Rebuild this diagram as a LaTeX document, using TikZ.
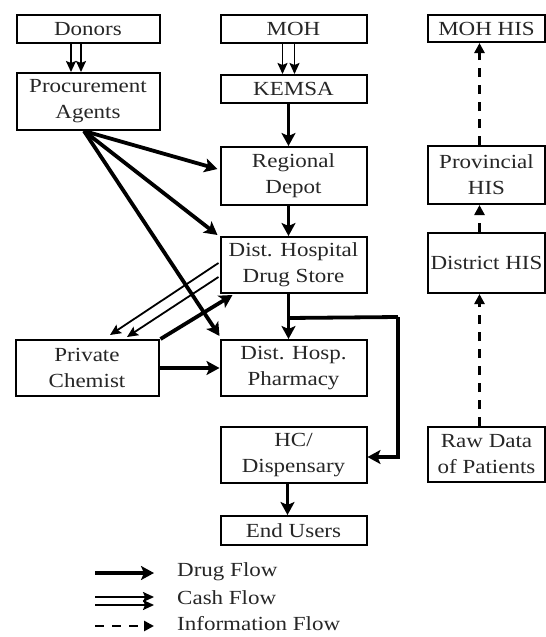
\documentclass[tikz,border=0pt]{standalone}
\usepackage{fontspec}
\setmainfont{Liberation Serif}[FakeStretch=1.15]
\usetikzlibrary{arrows.meta,calc}
\begin{document}
\begin{tikzpicture}[x=1pt,y=-1pt,
  box/.style={draw=black, line width=2pt, inner sep=0pt, align=center,
    font=\fontsize{20}{26}\selectfont, text=black!85},
  lbox/.style={box, minimum width=143pt},
  mbox/.style={box, minimum width=146pt},
  rbox/.style={box, minimum width=117pt},
  drug/.style={line width=3.8pt, -{Stealth[length=13pt,width=14pt,inset=3pt]}},
  cash/.style={line width=1.8pt, -{Stealth[length=11pt,width=10pt,inset=2pt]}},
  info/.style={line width=2.8pt, dash pattern=on 9pt off 8pt, -{Triangle[length=10pt,width=10pt]}},
  legtext/.style={anchor=west, inner sep=0pt, font=\fontsize{20}{24}\selectfont, text=black!85}
]
\useasboundingbox (0,0) rectangle (546,637);

% boxes
\node[lbox, minimum height=28pt] (don) at (88,29) {Donors};
\node[lbox, minimum height=57pt] (proc) at (88,101.5) {Procurement\\Agents};
\node[mbox, minimum height=28pt] (moh) at (293.5,29) {MOH};
\node[mbox, minimum height=28pt] (kem) at (293.5,89) {KEMSA};
\node[mbox, minimum height=58pt] (rd) at (293.5,176) {Regional\\Depot};
\node[mbox, minimum height=56pt] (ds) at (293.5,265) {Dist. Hospital\\Drug Store};
\node[lbox, minimum height=56pt] (chem) at (87,368) {Private\\Chemist};
\node[mbox, minimum height=56pt] (ph) at (293.5,368) {Dist. Hosp.\\Pharmacy};
\node[mbox, minimum height=56pt] (hc) at (293.5,455) {HC/\\Dispensary};
\node[mbox, minimum height=29pt] (eu) at (293.5,530.5) {End Users};
\node[rbox, minimum height=27pt] (mhis) at (486.5,28.5) {MOH HIS};
\node[rbox, minimum height=58pt] (phis) at (486.5,175) {Provincial\\HIS};
\node[rbox, minimum height=60pt] (dhis) at (486.5,263) {District HIS};
\node[rbox, minimum height=55pt] (raw) at (486.5,454.5) {Raw Data\\of Patients};

% cash flows
\draw[cash] ($(don.south)+(-17,0)$) -- ($(proc.north)+(-17,0)$);
\draw[cash] ($(don.south)+(-7,0)$) -- ($(proc.north)+(-7,0)$);
\draw[cash] ($(moh.south)+(-11,0)$) -- ($(kem.north)+(-11,0)$);
\draw[cash] ($(moh.south)+(1,0)$) -- ($(kem.north)+(1,0)$);
\draw[cash] ($(ds.west)+(-1,-2)$) -- ($(chem.north)+(23,-4)$);
\draw[cash] ($(ds.west)+(-1,12)$) -- ($(chem.north)+(40,-2)$);

% drug flows
\draw[drug] ($(kem.south)+(-5,0)$) -- ($(rd.north)+(-5,0)$);
\draw[drug] ($(rd.south)+(-5,0)$) -- ($(ds.north)+(-5,0)$);
\draw[drug] ($(ds.south)+(-5,0)$) -- ($(ph.north)+(-5,0)$);
\draw[drug] ($(hc.south)+(-6,0)$) -- ($(eu.north)+(-6,0)$);
\draw[drug] ($(proc.south)+(-4,0)$) -- ($(rd.west)+(-2,-7)$);
\draw[drug] ($(proc.south)+(-4,0)$) -- ($(ds.north west)+(-2,-1)$);
\draw[drug] ($(proc.south)+(-4,0)$) -- ($(ph.north west)+(0,-3)$);
\draw[drug] ($(chem.north east)+(1,0)$) -- ($(ds.south west)+(13,1)$);
\draw[drug] (chem.east) -- (ph.west);
\coordinate (br) at ($(ds.south)+(-5,24)$);
\coordinate (cr) at (398,317);
\draw[line width=3.8pt] (br) -- (cr);
\draw[drug] (cr) |- ($(hc.east)+(0,2)$);

% information flows
\draw[info] ($(phis.north)+(-7,0)$) -- ($(mhis.south)+(-7,0)$);
\draw[info] ($(dhis.north)+(-7,0)$) -- ($(phis.south)+(-7,0)$);
\draw[info] ($(raw.north)+(-7,0)$) -- ($(dhis.south)+(-7,0)$);

% legend
\node[legtext] (l1) at (177,572) {Drug Flow};
\node[legtext] (l2) at (177,598) {Cash Flow};
\node[legtext] (l3) at (177,624) {Information Flow};
\coordinate (l1a) at (95,573);
\coordinate (l1b) at (154,573);
\coordinate (l2a) at (95,597);
\coordinate (l2b) at (154,597);
\coordinate (l2c) at (95,605);
\coordinate (l2d) at (154,605);
\coordinate (l3a) at (95,626);
\coordinate (l3b) at (154,626);
\draw[drug] (l1a) -- (l1b);
\draw[cash] (l2a) -- (l2b);
\draw[cash] (l2c) -- (l2d);
\draw[info] (l3a) -- (l3b);
\end{tikzpicture}
\end{document}
